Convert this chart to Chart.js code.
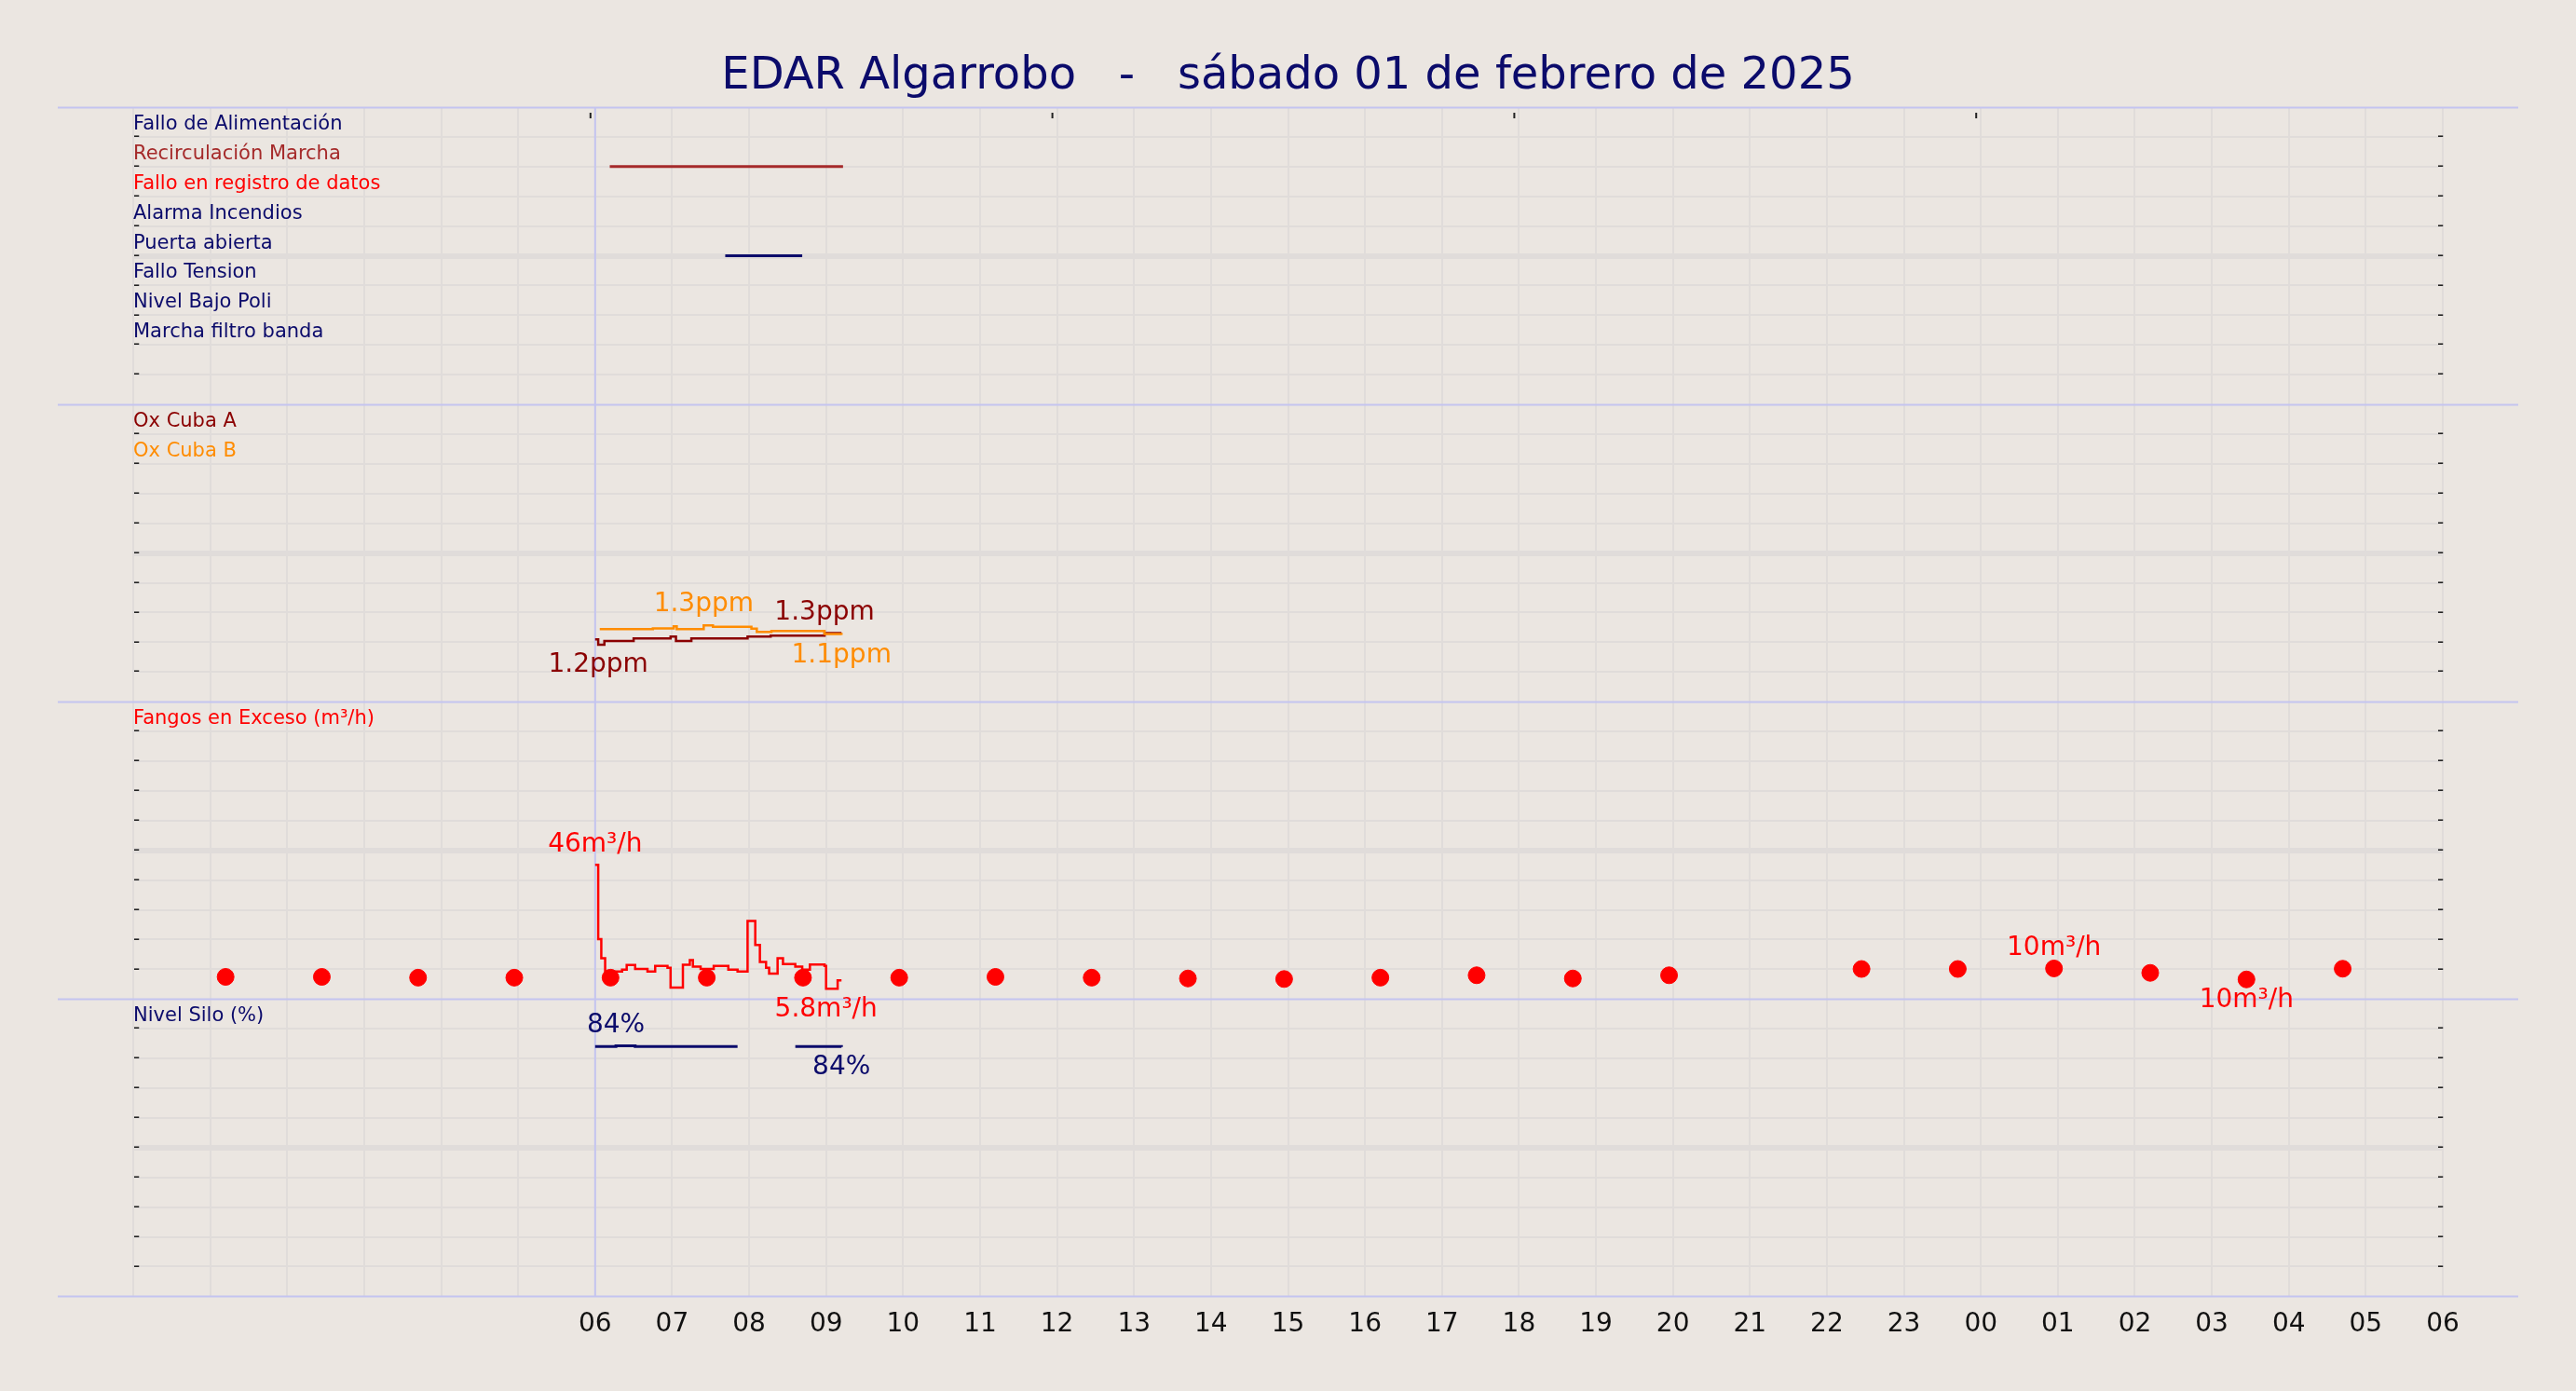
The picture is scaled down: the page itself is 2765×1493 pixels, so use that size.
<!DOCTYPE html>
<html>
<head>
<meta charset="utf-8">
<script src="https://cdn.jsdelivr.net/npm/chart.js@4.4.1/dist/chart.umd.min.js"></script>
<style>
  html, body { margin: 0; padding: 0; background: #ebe6e1; }
  canvas { display: block; }
</style>
</head>
<body>
<canvas id="chart" width="2765" height="1493"></canvas>
<script>
// hours since 00:00 of the day before; axis labels shown from 06
const title = 'EDAR Algarrobo   -   sábado 01 de febrero de 2025';

// digital signals (top panel), row = grid line they sit on
const digitalNames = ['Fallo de Alimentación', 'Recirculación Marcha', 'Fallo en registro de datos', 'Alarma Incendios',
    'Puerta abierta', 'Fallo Tension', 'Nivel Bajo Poli', 'Marcha filtro banda'];
const digitalColors = ['#0b0b6b', '#a52a2a', '#ff0000', '#0b0b6b', '#0b0b6b', '#0b0b6b', '#0b0b6b', '#0b0b6b'];
const recircOn = [6.19, 9.22];
const puertaOn = [7.69, 8.69];

// oxygen (ppm)
const oxAHours = [6.0, 6.04, 6.12, 6.5, 6.98, 7.05, 7.2, 7.25, 7.98, 8.28, 8.98, 9.2];
const oxAValues = [1.23, 1.17, 1.21, 1.24, 1.26, 1.21, 1.21, 1.24, 1.26, 1.27, 1.30, 1.30];
const oxBHours = [6.06, 6.37, 6.75, 7.02, 7.06, 7.41, 7.53, 8.03, 8.1, 8.29, 8.98, 9.2];
const oxBValues = [1.22, 1.22, 1.235, 1.27, 1.22, 1.285, 1.26, 1.23, 1.175, 1.19, 1.14, 1.125];

// fangos en exceso (m³/h)
const fangosHours = [6.0, 6.04, 6.08, 6.13, 6.35, 6.41, 6.52, 6.68, 6.78, 6.94, 6.98, 7.14, 7.23, 7.27, 7.37,
    7.54, 7.73, 7.85, 7.98, 8.08, 8.14, 8.22, 8.26, 8.37, 8.44, 8.6, 8.69, 8.79, 8.98, 9.0, 9.15, 9.2];
const fangosValues = [46, 21.9, 15.7, 11.4, 12.0, 13.5, 12.2, 11.4, 13.2, 12.6, 6.2, 13.6, 15.1, 13.0, 12.2,
    13.2, 12.0, 11.4, 27.8, 20.0, 14.5, 12.6, 10.7, 15.7, 13.8, 13.0, 12.0, 13.7, 13.2, 5.8, 8.5, 8.5];
const dotHours = [1.2, 2.45, 3.7, 4.95, 6.2, 7.45, 8.7, 9.95, 11.2, 12.45, 13.7, 14.95, 16.2, 17.45, 18.7, 19.95,
    22.45, 23.7, 24.95, 26.2, 27.45, 28.7];
const dotValues = [9.79, 9.79, 9.73, 9.73, 9.73, 9.73, 9.73, 9.73, 9.79, 9.73, 9.67, 9.63, 9.73, 9.91, 9.67, 9.91,
    10.38, 10.38, 10.42, 10.09, 9.6, 10.4];

// nivel silo (%)
const siloHours = [6.0, 6.27, 6.52, 7.85, 7.86, 8.6, 9.0, 9.2];
const siloValues = [84, 84.3, 84, 84, null, 84, 84, 83.9];

// each panel is 10 units of the shared y axis: silo 0-10, fangos 10-20, ox 20-30, digital 30-40
const toY = {
    oxA: v => 18.41 + 3 * v,
    oxB: v => 20 + 2 * v,
    fangos: v => 10 + (v - 2.46) / 9.65,
    dots: v => 6.34 + 0.45 * v,
    silo: v => v / 10
};

function pts(hours, values, f) {
    return hours.map((h, i) => ({ x: h, y: values[i] === null ? null : f(values[i]), v: values[i] }));
}

const panelTexts = [
    ...digitalNames.map((n, i) => ({ text: n, row: 39 - i, color: digitalColors[i] })),
    { text: 'Ox Cuba A', row: 29, color: '#8b0000' },
    { text: 'Ox Cuba B', row: 28, color: '#ff8c00' },
    { text: 'Fangos en Exceso (m³/h)', row: 19, color: '#ff0000' },
    { text: 'Nivel Silo (%)', row: 9, color: '#0b0b6b' }
];

const decor = {
    id: 'decor',
    beforeDatasetsDraw(chart) {
        const { ctx, scales: { x, y }, chartArea } = chart;
        ctx.save();
        ctx.strokeStyle = '#c4c4f0';
        ctx.lineWidth = 2;
        [0, 10, 20, 30, 40].forEach(v => {
            const py = Math.round(y.getPixelForValue(v)) + 0.5;
            ctx.beginPath(); ctx.moveTo(62, py); ctx.lineTo(2703, py); ctx.stroke();
        });
        const px = x.getPixelForValue(6);
        ctx.beginPath(); ctx.moveTo(px, chartArea.top); ctx.lineTo(px, chartArea.bottom); ctx.stroke();
        // small dashes on the side of each grid line
        ctx.fillStyle = '#222';
        ctx.font = '20px "DejaVu Sans"';
        ctx.textBaseline = 'middle';
        for (let v = 1; v < 40; v++) {
            if (v % 10 === 0) continue;
            const py = y.getPixelForValue(v);
            ctx.fillText('-', chartArea.right - 6, py);
            ctx.fillText('-', chartArea.left, py);
        }
        [6, 12, 18, 24].forEach(h => {
            const p = x.getPixelForValue(h) - 6;
            ctx.fillRect(p, chartArea.top + 6, 2, 6);
        });
        ctx.restore();
    },
    afterDatasetsDraw(chart) {
        const { ctx, scales: { x, y }, chartArea } = chart;
        ctx.save();
        ctx.font = '21px "DejaVu Sans"';
        ctx.textBaseline = 'bottom';
        ctx.textAlign = 'left';
        panelTexts.forEach(t => {
            ctx.fillStyle = t.color;
            ctx.fillText(t.text, chartArea.left, y.getPixelForValue(t.row) - 3);
        });
        // max / min value labels
        ctx.font = '28px "DejaVu Sans"';
        ctx.textAlign = 'center';
        chart.data.datasets.forEach(ds => {
            if (!ds.unit) return;
            const valid = ds.data.filter(p => p.v !== null);
            let hi = valid[0], lo = valid[0];
            valid.forEach(p => { if (p.v > hi.v) hi = p; if (p.v < lo.v) lo = p; });
            ctx.fillStyle = ds.borderColor;
            ctx.textBaseline = 'bottom';
            ctx.fillText(ds.fmt(hi.v) + ds.unit, x.getPixelForValue(hi.x), y.getPixelForValue(hi.y) - 8);
            ctx.textBaseline = 'top';
            ctx.fillText(ds.fmt(lo.v) + ds.unit, x.getPixelForValue(lo.x), y.getPixelForValue(lo.y) + 8);
        });
        // title
        ctx.fillStyle = '#0b0b6b';
        ctx.font = '48px "DejaVu Sans"';
        ctx.textBaseline = 'middle';
        ctx.fillText(title, chart.width / 2, 83);
        ctx.restore();
    }
};

const r1 = v => v.toFixed(1);
const r0 = v => Math.round(v).toString();
const fgs = v => (v < 10 ? v.toFixed(1) : Math.round(v).toString());

new Chart(document.getElementById('chart'), {
    type: 'scatter',
    data: {
        datasets: [
            { data: pts(recircOn, [38, 38], v => v), borderColor: '#a52a2a', borderWidth: 3, showLine: true, pointRadius: 0 },
            { data: pts(puertaOn, [35, 35], v => v), borderColor: '#0b0b6b', borderWidth: 3, showLine: true, pointRadius: 0 },
            { data: pts(oxBHours, oxBValues, toY.oxB), borderColor: '#ff8c00', borderWidth: 2.5, showLine: true, stepped: true, pointRadius: 0, unit: 'ppm', fmt: r1 },
            { data: pts(oxAHours, oxAValues, toY.oxA), borderColor: '#8b0000', borderWidth: 2.5, showLine: true, stepped: true, pointRadius: 0, unit: 'ppm', fmt: r1 },
            { data: pts(fangosHours, fangosValues, toY.fangos), borderColor: '#ff0000', borderWidth: 2.5, showLine: true, stepped: true, pointRadius: 0, unit: 'm³/h', fmt: fgs },
            { data: pts(dotHours, dotValues, toY.dots), borderColor: '#ff0000', backgroundColor: '#ff0000', showLine: false, pointRadius: 9, unit: 'm³/h', fmt: r0 },
            { data: pts(siloHours, siloValues, toY.silo), borderColor: '#0b0b6b', borderWidth: 3, showLine: true, stepped: true, spanGaps: false, pointRadius: 0, unit: '%', fmt: r0 }
        ]
    },
    options: {
        responsive: false,
        animation: false,
        layout: { padding: { left: 143, right: 143, top: 115, bottom: 40 } },
        plugins: { legend: { display: false }, tooltip: { enabled: false } },
        scales: {
            x: {
                type: 'linear', min: 0, max: 30,
                border: { display: false },
                grid: { color: '#e0dcda', lineWidth: 2, drawTicks: false },
                ticks: {
                    stepSize: 1, autoSkip: false, padding: 14, maxRotation: 0,
                    color: '#111', font: { size: 28, family: 'DejaVu Sans' },
                    callback: v => (v >= 6 ? String(v % 24).padStart(2, '0') : '')
                }
            },
            y: {
                min: 0, max: 40,
                border: { display: false },
                grid: {
                    drawTicks: false,
                    color: c => (c.tick.value % 10 === 0 ? 'rgba(0,0,0,0)' : '#e0dcda'),
                    lineWidth: c => (c.tick.value % 5 === 0 ? 6 : 2)
                },
                ticks: { stepSize: 1, display: false }
            }
        }
    },
    plugins: [decor]
});
</script>
</body>
</html>
